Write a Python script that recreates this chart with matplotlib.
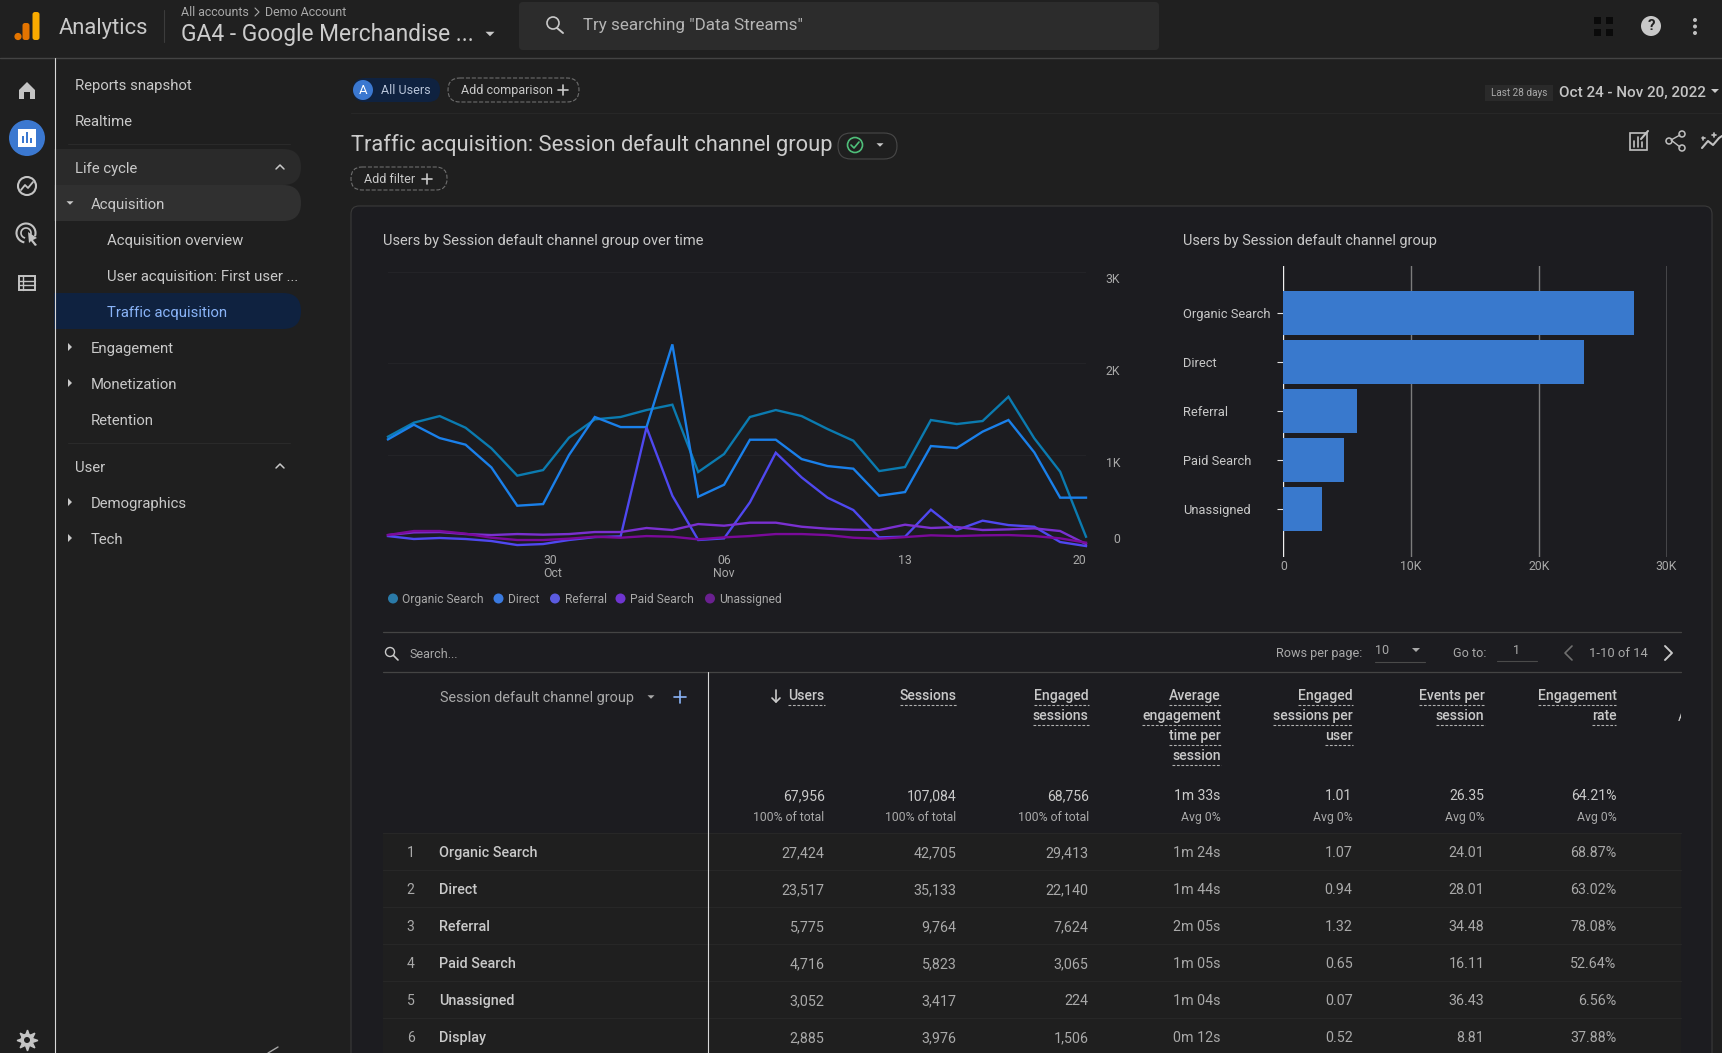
# GA4 traffic acquisition screen

import numpy as np
import matplotlib
matplotlib.use("Agg")
import matplotlib.pyplot as plt
from matplotlib.patches import Circle, FancyBboxPatch, Polygon, Rectangle, Arc
from matplotlib.transforms import ScaledTranslation


W, H = 1722, 1053
FILE_NAME = "out.png"

PAGE = "#1f1f1f"
PANEL = "#1c1c20"
TEXT = "#c9c9c9"
TEXT2 = "#a9a9a9"
NAVY = "#0f2240"
BLUE = "#3b78d0"
LINK = "#8ab4f8"

# line chart
CHANNELS = ["Organic Search", "Direct", "Referral", "Paid Search", "Unassigned"]
DAYS = np.arange(28)
ORGANIC = [1200, 1353, 1425, 1298, 1073, 775, 836, 1189, 1389, 1415, 1491, 1549, 815, 1011,
           1415, 1491, 1425, 1284, 1156, 825, 869, 1382, 1338, 1371, 1636, 1182, 818, 109]
DIRECT = [1171, 1331, 1185, 1113, 865, 447, 465, 1000, 1415, 1305, 1305, 2207, 545, 676,
          1167, 1167, 956, 880, 851, 556, 596, 1098, 1076, 1255, 1382, 1029, 535, 535]
REFERRAL = [116, 84, 95, 84, 62, 18, 29, 73, 105, 113, 1302, 556, 73, 91,
            484, 1025, 756, 535, 400, 102, 109, 404, 182, 284, 236, 218, 51, 7]
PAID = [127, 156, 160, 138, 127, 138, 131, 138, 160, 160, 204, 182, 247, 229,
        262, 262, 218, 196, 185, 182, 240, 204, 215, 182, 189, 200, 171, 29]
UNASSIGNED = [127, 171, 171, 142, 98, 73, 73, 87, 109, 98, 116, 109, 80, 102,
              116, 138, 138, 127, 98, 87, 105, 124, 116, 124, 127, 116, 91, 44]
LINE_TICKS = [6, 13, 20, 27]
LINE_TICK_LABELS = ["30\nOct", "06\nNov", "13", "20"]
Y_TICKS = [0, 1000, 2000, 3000]
Y_TICK_LABELS = ["0", "1K", "2K", "3K"]
LINE_COLORS = ["#0b7bb0", "#1a80ea", "#4f48f0", "#7a30d0", "#7a0a9a"]
DOT_COLORS = ["#2a7aa8", "#3a7ae0", "#5b5be0", "#6f35d0", "#6a2090"]

# bar chart
BAR_USERS = [27424, 23517, 5775, 4716, 3052]
BAR_TICKS = [0, 10000, 20000, 30000]
BAR_TICK_LABELS = ["0", "10K", "20K", "30K"]

# table
COLUMNS = [["Users"], ["Sessions"], ["Engaged", "sessions"],
           ["Average", "engagement", "time per", "session"],
           ["Engaged", "sessions per", "user"], ["Events per", "session"],
           ["Engagement", "rate"]]
TOTALS = ["67,956", "107,084", "68,756", "1m 33s", "1.01", "26.35", "64.21%"]
SUBTOTALS = ["100% of total", "100% of total", "100% of total",
             "Avg 0%", "Avg 0%", "Avg 0%", "Avg 0%"]
ROW_NAMES = ["Organic Search", "Direct", "Referral", "Paid Search", "Unassigned", "Display"]
COL_USERS = ["27,424", "23,517", "5,775", "4,716", "3,052", "2,885"]
COL_SESSIONS = ["42,705", "35,133", "9,764", "5,823", "3,417", "3,976"]
COL_ENGAGED = ["29,413", "22,140", "7,624", "3,065", "224", "1,506"]
COL_AVG_TIME = ["1m 24s", "1m 44s", "2m 05s", "1m 05s", "1m 04s", "0m 12s"]
COL_PER_USER = ["1.07", "0.94", "1.32", "0.65", "0.07", "0.52"]
COL_EVENTS = ["24.01", "28.01", "34.48", "16.11", "36.43", "8.81"]
COL_RATE = ["68.87%", "63.02%", "78.08%", "52.64%", "6.56%", "37.88%"]

# side menu: label, x, y
NAV_ITEMS = [("Reports snapshot", 75, 84), ("Realtime", 75, 120), ("Life cycle", 75, 167),
             ("Acquisition", 91, 203), ("Acquisition overview", 107, 239),
             ("User acquisition: First user ...", 107, 275), ("Engagement", 91, 347),
             ("Monetization", 91, 383), ("Retention", 91, 419), ("User", 75, 466),
             ("Demographics", 91, 502), ("Tech", 91, 538)]


def pixel_axes(fig, x0, y0, x1, y1):
    """
    Axes placed by pixel rectangle (y goes down)
    """
    return fig.add_axes([x0 / W, 1 - y1 / H, (x1 - x0) / W, (y1 - y0) / H])


def txt(ax, x, y, s, px=14, color=TEXT, ha="left", **kw):
    # va=center sits a little high for this font
    return ax.text(x, y + 1.6, s, fontsize=px * 0.72, color=color, ha=ha, va="center", **kw)


def pill(ax, x0, y0, x1, y1, r, fc="none", ec="none", ls="-", lw=0.8):
    ax.add_patch(FancyBboxPatch((x0, y0), x1 - x0, y1 - y0,
                                boxstyle=f"round,pad=0,rounding_size={r}",
                                fc=fc, ec=ec, ls=ls, lw=lw))


def tri(ax, x, y, size=4, color=TEXT, up=False):
    d = -size if up else size
    ax.add_patch(Polygon([[x - size, y - d / 2], [x + size, y - d / 2], [x, y + d / 2]],
                         closed=True, fc=color, ec="none"))


def side_tri(ax, x, y, color=TEXT):
    ax.add_patch(Polygon([[x - 2, y - 4], [x + 2, y], [x - 2, y + 4]], closed=True,
                         fc=color, ec="none"))


def seg(ax, xs, ys, color=TEXT, lw=1.0, **kw):
    ax.plot(xs, ys, color=color, lw=lw, solid_capstyle="round", **kw)


def plus(ax, x, y, color=TEXT, r=5):
    seg(ax, [x - r, x + r], [y, y], color, 1.2)
    seg(ax, [x, x], [y - r, y + r], color, 1.2)


def draw_header(ax):
    """
    Top bar
    """
    ax.add_patch(Rectangle((0, 0), W, 57.5, fc="#202020", ec="none"))
    seg(ax, [0, W], [57.5, 57.5], "#444444", 1.0)
    ax.add_patch(Circle((18, 36.5), 3.6, fc="#e37400", ec="none"))
    pill(ax, 22.5, 23, 29.5, 40, 2.5, fc="#e37400")
    pill(ax, 32.5, 12, 39.5, 40, 2.5, fc="#f9ab00")
    txt(ax, 59, 26.5, "Analytics", 22, "#c9c9c9")
    seg(ax, [163.5, 163.5], [10, 42], "#3c3c3c", 0.8)
    txt(ax, 181, 10.5, "All accounts", 12.4, TEXT2)
    seg(ax, [255, 259, 255], [8, 12, 16], TEXT2, 0.8)
    txt(ax, 265, 10.5, "Demo Account", 12.4, TEXT2)
    txt(ax, 181, 33, "GA4 - Google Merchandise ...", 22.7, "#cccccc")
    tri(ax, 490, 34, 4.5)
    pill(ax, 519, 2, 1159, 50, 4, fc="#2c2c2c")
    ax.add_patch(Circle((553, 23), 6, fc="none", ec=TEXT, lw=1.2))
    seg(ax, [557, 563], [28, 33], TEXT, 1.4)
    txt(ax, 583, 23.5, 'Try searching "Data Streams"', 17, "#b5b5b5")
    for x in (1594, 1606):
        for y in (17, 29):
            ax.add_patch(Rectangle((x, y), 7, 7, fc="#0a0a0a", ec="none"))
    ax.add_patch(Circle((1651, 26), 10, fc="#c8c8c8", ec="none"))
    txt(ax, 1651, 24.5, "?", 15, "#202020", ha="center", weight="bold")
    for y in (20, 26.5, 33):
        ax.add_patch(Circle((1695, y), 2, fc="#c0c0c0", ec="none"))


def draw_rail(ax):
    """
    Left icon rail
    """
    ax.add_patch(Rectangle((0, 58), 54, H - 58, fc=PAGE, ec="none", zorder=2))
    seg(ax, [54.5, 54.5], [58, H], "#d8d8d8", 0.8, zorder=3)
    # home
    ax.add_patch(Polygon([[19, 90], [27, 82], [35, 90], [35, 99], [30, 99], [30, 92], [24, 92],
                          [24, 99], [19, 99]], closed=True, fc="#c4c4c4", ec="none", zorder=3))
    # reports
    ax.add_patch(Circle((27, 138), 18, fc=BLUE, ec="none", zorder=3))
    ax.add_patch(Rectangle((18, 129), 18, 18, fc="#ffffff", ec="none", zorder=4))
    for x, h in ((22, 7), (26, 11), (30, 5)):
        ax.add_patch(Rectangle((x, 143 - h), 2.4, h, fc=BLUE, ec="none", zorder=5))
    # explore
    ax.add_patch(Circle((27, 186), 9, fc="none", ec="#c4c4c4", lw=1.5, zorder=3))
    seg(ax, [21, 25, 28, 33], [190, 185, 188, 182], "#c4c4c4", 1.3, zorder=3)
    # advertising
    ax.add_patch(Arc((26, 233), 19, 19, theta1=100, theta2=20, ec="#c4c4c4", lw=1.5, zorder=3))
    ax.add_patch(Arc((26, 233), 10, 10, theta1=100, theta2=20, ec="#c4c4c4", lw=1.2, zorder=3))
    ax.add_patch(Polygon([[28, 232], [37, 238], [33, 240], [37, 245], [35, 246], [31, 241],
                          [29, 243]], closed=True, fc="#c4c4c4", ec="none", zorder=3))
    # configure
    ax.add_patch(Rectangle((19, 276), 16, 14, fc="none", ec="#c4c4c4", lw=1.4, zorder=3))
    for y in (280.5, 285):
        seg(ax, [19, 35], [y, y], "#c4c4c4", 1.0, zorder=3)
    seg(ax, [23, 23], [276, 290], "#c4c4c4", 1.0, zorder=3)
    # settings
    ax.plot([27], [1040], marker=(8, 1, 0), ms=15, color="#c4c4c4", zorder=3)
    ax.add_patch(Circle((27, 1040), 6.5, fc="#c4c4c4", ec="none", zorder=3))
    ax.add_patch(Circle((27, 1040), 3, fc=PAGE, ec="none", zorder=4))


def draw_nav(ax):
    """
    Side menu
    """
    pill(ax, 30, 149, 301, 185, 18, fc="#2a2a2a")
    pill(ax, 30, 185, 301, 221, 18, fc="#303030")
    pill(ax, 30, 293, 301, 329, 18, fc=NAVY)
    seg(ax, [68, 290], [143.5, 143.5], "#2a2a2a", 0.8)
    seg(ax, [68, 290], [442.5, 442.5], "#2a2a2a", 0.8)
    for label, x, y in NAV_ITEMS:
        txt(ax, x, y, label, 14.9, TEXT)
    txt(ax, 107, 311, "Traffic acquisition", 14.9, LINK)
    for y in (167, 466):
        seg(ax, [276, 280, 284], [y + 2, y - 2, y + 2], TEXT, 1.1)
    tri(ax, 70, 203, 3.5)
    for y in (347, 383, 502, 538):
        side_tri(ax, 70, y)
    seg(ax, [268, 278], [1053, 1047], TEXT2, 1.0)


def draw_toolbar(ax):
    """
    Comparison chips, title and date range
    """
    pill(ax, 353, 78, 440, 102, 12, fc=NAVY)
    ax.add_patch(Circle((363, 90), 10, fc=BLUE, ec="none"))
    txt(ax, 363, 88.5, "A", 13, "#ffffff", ha="center")
    txt(ax, 381, 88.5, "All Users", 12.5, "#b8c4d8")
    pill(ax, 448, 78, 579, 102, 12, ec="#6e6e6e", ls="--")
    txt(ax, 461, 88.5, "Add comparison", 12.5, TEXT)
    plus(ax, 563, 90)
    seg(ax, [351, W], [112.5, 112.5], "#272727", 0.8)
    ax.add_patch(Rectangle((1485, 85), 68, 16, fc="#2a2a2a", ec="none"))
    txt(ax, 1519, 91.5, "Last 28 days", 10, TEXT2, ha="center")
    txt(ax, 1559, 91.5, "Oct 24 - Nov 20, 2022", 15.3, "#c4c4c4", weight="medium")
    tri(ax, 1715, 91, 4)
    txt(ax, 351, 143.5, "Traffic acquisition: Session default channel group", 21.85, "#cccccc")
    pill(ax, 838, 133, 897, 159, 13, ec="#484848")
    ax.add_patch(Circle((855, 145), 7.5, fc="none", ec="#4fbf7a", lw=1.2))
    seg(ax, [851, 854, 859], [145, 148, 142], "#4fbf7a", 1.2)
    tri(ax, 880, 145, 3.5)
    pill(ax, 351, 167, 447, 190, 11, ec="#6e6e6e", ls="--")
    txt(ax, 364, 177.5, "Add filter", 12.5, TEXT)
    plus(ax, 427, 179)
    # report icons
    ax.add_patch(Rectangle((1630, 133), 17, 17, fc="none", ec="#c0c0c0", lw=1.2))
    for x, h in ((1634, 6), (1638, 10), (1642, 5)):
        seg(ax, [x, x], [147, 147 - h], "#c0c0c0", 1.2)
    seg(ax, [1641, 1648], [139, 131], "#c0c0c0", 1.5)
    ax.add_patch(Circle((1682, 134), 3, fc="none", ec="#c0c0c0", lw=1.1))
    ax.add_patch(Circle((1669, 141), 3, fc="none", ec="#c0c0c0", lw=1.1))
    ax.add_patch(Circle((1682, 148), 3, fc="none", ec="#c0c0c0", lw=1.1))
    seg(ax, [1680, 1671, 1680], [135, 140, 147], "#c0c0c0", 1.0)
    seg(ax, [1702, 1708, 1713, 1719, 1722], [148, 141, 145, 138, 136], "#c0c0c0", 1.5)
    plus(ax, 1703, 138, "#c0c0c0", 1.5)
    plus(ax, 1714, 135, "#c0c0c0", 2)


def draw_panel(ax):
    """
    Card behind the charts and the table
    """
    pill(ax, 351, 206, 1712, 1120, 8, fc=PANEL, ec="#3a3a3a")
    txt(ax, 383, 239.5, "Users by Session default channel group over time", 14.6, TEXT)
    txt(ax, 1183, 239.5, "Users by Session default channel group", 14.5, TEXT)
    dot_x = [393, 498.5, 555, 620.5, 710]
    for name, color, x in zip(CHANNELS, DOT_COLORS, dot_x):
        ax.add_patch(Circle((x, 598.5), 5, fc=color, ec="none"))
        txt(ax, x + 9.5, 597.5, name, 12, TEXT2)


def draw_line_chart(fig):
    ax = pixel_axes(fig, 388, 271.7, 1086, 546.7)
    ax.patch.set_alpha(0)
    for values, color in zip([ORGANIC, DIRECT, REFERRAL, PAID, UNASSIGNED], LINE_COLORS):
        ax.plot(DAYS, values, color=color, lw=1.7, solid_joinstyle="miter", clip_on=False)
    ax.set_xlim(0, 27)
    ax.set_ylim(0, 3000)
    for s in ax.spines.values():
        s.set_visible(False)
    ax.grid(axis="y", color="#232327", lw=0.8)
    ax.set_axisbelow(True)
    ax.yaxis.tick_right()
    ax.set_yticks(Y_TICKS, Y_TICK_LABELS, fontsize=8.8, color=TEXT2, family="Roboto", ha="right")
    ax.tick_params(axis="y", length=0, pad=24.5)
    for label, va, shift in zip(ax.get_yticklabels(), ["bottom", "top", "top", "top"], [-1, 2, 2, 1]):
        label.set_va(va)
        label.set_transform(label.get_transform()
                            + ScaledTranslation(0, -shift / 100, fig.dpi_scale_trans))
    ax.set_xticks(LINE_TICKS, LINE_TICK_LABELS, fontsize=8.8, color=TEXT2, family="Roboto")
    ax.tick_params(axis="x", length=0, pad=5.2)
    for label, ha in zip(ax.get_xticklabels(), ["left", "center", "center", "right"]):
        label.set_ha(ha)
        label.set_linespacing(1.0)


def draw_bar_chart(fig):
    ax = pixel_axes(fig, 1283.4, 266, 1666.5, 557)
    ax.patch.set_alpha(0)
    ax.barh(CHANNELS, BAR_USERS, height=0.898, color="#3979cd", zorder=3)
    ax.set_xlim(0, 30000)
    ax.set_ylim(4.98, -0.96)
    for s in ax.spines.values():
        s.set_visible(False)
    ax.set_xticks(BAR_TICKS, BAR_TICK_LABELS, fontsize=8.8, color=TEXT2, family="Roboto")
    ax.tick_params(axis="x", length=0, pad=2)
    ax.grid(axis="x", lw=1.0)
    for line, color in zip(ax.get_xgridlines(), ["#f0f0f0", "#7c7c7c", "#7c7c7c", "#f0f0f0"]):
        line.set_color(color)
    ax.tick_params(axis="y", length=4.5, width=0.8, color="#e0e0e0", pad=67.5)
    for label in ax.get_yticklabels():
        label.set(ha="left", fontsize=9.3, color=TEXT, family="Roboto")


def draw_table(fig, ax):
    left, right = 383, 1681
    seg(ax, [left, right], [632.3, 632.3], "#444444", 0.9)
    seg(ax, [left, right], [672.3, 672.3], "#444444", 0.9)
    ax.add_patch(Circle((390, 652), 4.5, fc="none", ec=TEXT, lw=1.0))
    seg(ax, [393.5, 398], [655.5, 660], TEXT, 1.2)
    txt(ax, 409, 652.5, "Search...", 12.5, TEXT2)

    txt(ax, 1276, 651.5, "Rows per page:", 12.6, TEXT2)
    txt(ax, 1375, 648.5, "10", 12.5, TEXT2)
    tri(ax, 1416, 650, 4, TEXT2)
    seg(ax, [1375, 1425], [662, 662], "#4a4a4a", 0.8)
    txt(ax, 1453, 651.5, "Go to:", 12.6, TEXT2)
    txt(ax, 1516, 648.5, "1", 12.5, TEXT2, ha="center")
    seg(ax, [1497, 1537], [661, 661], "#4a4a4a", 0.8)
    seg(ax, [1572, 1565, 1572], [646, 653, 660], "#6f6f6f", 1.2)
    txt(ax, 1589, 651.5, "1-10 of 14", 13, TEXT2)
    seg(ax, [1665, 1672, 1665], [646, 653, 660], TEXT, 1.4)

    # rows
    ax.add_patch(Rectangle((left, 833.3), right - left, H - 833, fc="#1f1f1f", ec="none"))
    txt(ax, 440, 696.5, "Session default channel group", 14.4, TEXT2)
    tri(ax, 651, 697, 3.5, TEXT2)
    plus(ax, 680, 697, LINK, 6)

    col_right = [824.5, 956.6, 1088.7, 1220.8, 1352.5, 1484.6, 1616.4]
    renderer = fig.canvas.get_renderer()
    for x, lines, total, sub in zip(col_right, COLUMNS, TOTALS, SUBTOTALS):
        for i, line in enumerate(lines):
            y = 695.3 + 20 * i
            t = txt(ax, x, y - 1, line, 14, TEXT, ha="right", weight="medium")
            box = t.get_window_extent(renderer)
            ax.plot([box.x0, box.x1], [y + 10, y + 10], color="#b0b0b0", lw=0.8, ls=(0, (2.5, 1.5)))
        txt(ax, x, 794.7, total, 14, TEXT, ha="right")
        txt(ax, x, 816, sub, 12.2, TEXT2, ha="right")

    # clipped start of the next column
    clip_text = txt(ax, 1678, 715.5, "A", 14, TEXT, ha="left")
    clip_text.set_clip_path(Rectangle((1678, 700), 3, 30, transform=ax.transData))
    clip_text.set_clip_on(True)

    seg(ax, [776, 776], [690, 702], TEXT, 1.2)
    seg(ax, [772, 776, 780], [698, 702, 698], TEXT, 1.2)

    columns = [COL_USERS, COL_SESSIONS, COL_ENGAGED, COL_AVG_TIME, COL_PER_USER, COL_EVENTS, COL_RATE]
    for i, name in enumerate(ROW_NAMES):
        y = 852.3 + 37 * i
        seg(ax, [left, right], [y - 19, y - 19], "#282828", 0.7)
        txt(ax, 410.6, y - 1, str(i + 1), 14, TEXT2, ha="center")
        txt(ax, 439, y - 1, name, 14.4, TEXT, weight="medium")
        for x, col in zip(col_right, columns):
            txt(ax, x, y - 1, col[i], 14.3, TEXT2, ha="right")
    seg(ax, [708.4, 708.4], [672.3, H], "#d8d8d8", 0.8)


def main():
    plt.rcParams["font.family"] = ["Roboto", "DejaVu Sans"]
    fig = plt.figure(figsize=(W / 100, H / 100), dpi=100, facecolor=PAGE)
    bg = fig.add_axes([0, 0, 1, 1])
    bg.set_xlim(0, W)
    bg.set_ylim(H, 0)
    bg.axis("off")

    draw_nav(bg)
    draw_rail(bg)
    draw_header(bg)
    draw_toolbar(bg)
    draw_panel(bg)
    draw_table(fig, bg)
    draw_line_chart(fig)
    draw_bar_chart(fig)

    fig.savefig(FILE_NAME, dpi=100, facecolor=PAGE)


if __name__ == "__main__":
    main()
